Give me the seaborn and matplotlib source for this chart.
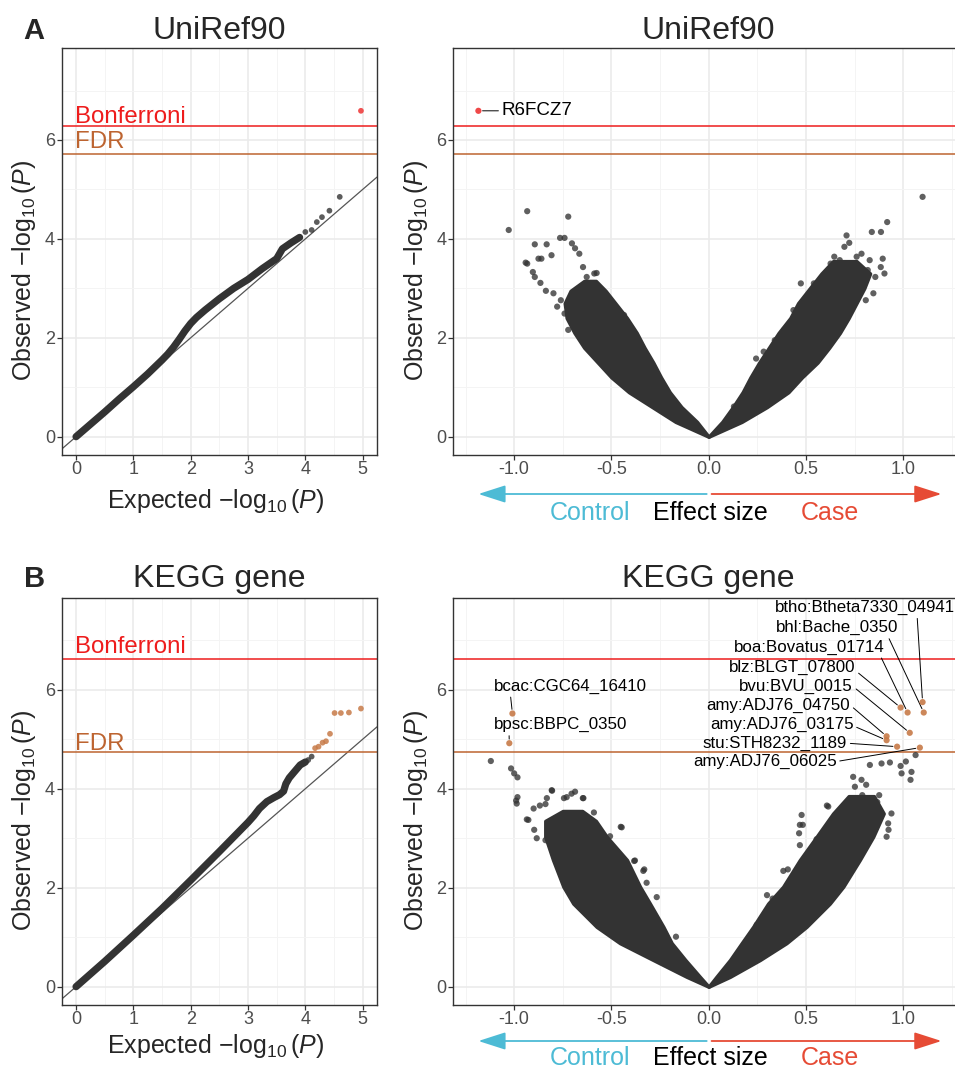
import matplotlib
matplotlib.use('Agg')
from matplotlib import pyplot as plt
import seaborn as sns

sns.set_theme(style='white')
plt.rcParams['font.family'] = ['Liberation Sans', 'DejaVu Sans']
plt.rcParams['mathtext.fontset'] = 'custom'
plt.rcParams['mathtext.rm'] = 'Liberation Sans'
plt.rcParams['mathtext.it'] = 'Liberation Sans:italic'
plt.rcParams['mathtext.bf'] = 'Liberation Sans:bold'

# ---------------- data ----------------
panel_titles = ['UniRef90', 'KEGG gene']
panel_letters = ['A', 'B']
bonferroni = [6.28, 6.63]
fdr = [5.72, 4.74]

# QQ curves (expected, observed)
qq_a_exp = [0, 0.25, 0.5, 0.75, 1.0, 1.25, 1.5, 1.6, 1.7, 1.8, 1.9, 2.0, 2.1, 2.25, 2.5,
            2.75, 3.0, 3.25, 3.5, 3.6, 3.75, 3.9]
qq_a_obs = [0, 0.25, 0.5, 0.76, 1.01, 1.27, 1.55, 1.67, 1.81, 1.97, 2.14, 2.29, 2.41, 2.56, 2.79,
            3.0, 3.18, 3.40, 3.60, 3.80, 3.92, 4.03]
qq_a_pts_exp = [4.0, 4.11, 4.2, 4.29, 4.42, 4.6]
qq_a_pts_obs = [4.14, 4.18, 4.34, 4.44, 4.57, 4.85]
qq_a_sig_exp = [4.97]
qq_a_sig_obs = [6.59]

qq_b_exp = [0, 0.5, 1.0, 1.5, 2.0, 2.5, 3.0, 3.1, 3.2, 3.33, 3.45, 3.55, 3.62, 3.66, 3.72, 3.8,
            3.91, 4.0]
qq_b_obs = [0, 0.51, 1.04, 1.58, 2.15, 2.73, 3.32, 3.45, 3.60, 3.74, 3.82, 3.88, 3.95, 4.10, 4.22,
            4.33, 4.48, 4.54]
qq_b_pts_exp = [4.05, 4.11]
qq_b_pts_obs = [4.58, 4.65]
qq_b_sig_exp = [4.17, 4.23, 4.30, 4.36, 4.43, 4.51, 4.62, 4.76, 4.97]
qq_b_sig_obs = [4.82, 4.85, 4.93, 4.96, 5.11, 5.53, 5.53, 5.54, 5.62]

# volcano dense cloud outlines (observed level, inner / outer effect size)
top_r_o = [0.0, 0.3, 0.6, 0.9, 1.2, 1.5, 1.8, 2.1, 2.4, 2.7, 3.0, 3.3, 3.55]
top_r_in = [0.0, 0.07, 0.125, 0.175, 0.215, 0.26, 0.31, 0.36, 0.42, 0.46, 0.52, 0.58, 0.64]
top_r_out = [0.0, 0.17, 0.30, 0.41, 0.48, 0.56, 0.62, 0.675, 0.72, 0.76, 0.80, 0.83, 0.76]
top_l_o = [0.0, 0.3, 0.6, 0.9, 1.2, 1.5, 1.8, 2.1, 2.4, 2.7, 2.95, 3.15]
top_l_in = [0.0, -0.06, -0.14, -0.2, -0.245, -0.285, -0.33, -0.37, -0.42, -0.48, -0.53, -0.58]
top_l_out = [0.0, -0.17, -0.29, -0.41, -0.5, -0.57, -0.64, -0.69, -0.73, -0.74, -0.71, -0.64]

bot_r_o = [0.0, 0.20, 0.54, 0.88, 1.21, 1.68, 2.02, 2.56, 3.03, 3.50, 3.85]
bot_r_in = [0.0, 0.04, 0.11, 0.17, 0.229, 0.306, 0.383, 0.469, 0.555, 0.64, 0.72]
bot_r_out = [0.0, 0.11, 0.264, 0.40, 0.503, 0.623, 0.692, 0.777, 0.846, 0.90, 0.85]
bot_l_o = [0.0, 0.20, 0.54, 0.88, 1.21, 1.68, 2.02, 2.56, 3.03, 3.35, 3.55]
bot_l_in = [0.0, -0.045, -0.12, -0.19, -0.233, -0.302, -0.353, -0.42, -0.524, -0.58, -0.65]
bot_l_out = [0.0, -0.113, -0.285, -0.456, -0.576, -0.696, -0.747, -0.80, -0.84, -0.84, -0.75]

# volcano scattered points
top_pts_v = [-1.028, -0.933, -0.722, -0.894, -0.833, -0.764, -0.741, -0.703, -0.687,
             -0.941, -0.933, -0.875, -0.86, -0.808, -0.665, -0.904, -0.894, -0.865,
             -0.837, -0.798, -0.76, -0.779, -0.741, -0.703, -0.665, -0.722, -0.646,
             -0.627, -0.588, -0.576, -0.483, -0.435, -0.636, -0.607, -0.55, -0.512, -0.473,
             1.10, 0.918, 0.839, 0.886, 0.709, 0.723, 0.698, 0.761, 0.786, 0.895,
             0.885, 0.904, 0.828, 0.818, 0.857, 0.474, 0.436, 0.388, 0.34, 0.283,
             0.244, 0.177, 0.13, 0.627, 0.646, 0.674, 0.541, 0.56, 0.732, 0.77,
             0.808, 0.847]
top_pts_o = [4.18, 4.56, 4.45, 3.89, 3.89, 4.02, 4.02, 3.91, 3.81,
             3.52, 3.50, 3.60, 3.60, 3.67, 3.70, 3.33, 3.23, 3.11,
             2.95, 2.90, 2.76, 2.63, 2.49, 2.36, 2.42, 2.16, 3.43,
             3.23, 3.30, 3.31, 2.59, 2.46, 3.03, 2.96, 2.76, 2.69, 2.56,
             4.85, 4.34, 4.14, 4.14, 4.07, 3.92, 3.84, 3.64, 3.70, 3.60,
             3.43, 3.30, 3.57, 3.37, 3.23, 3.10, 2.56, 2.16, 1.95, 1.72,
             1.58, 0.74, 0.61, 3.50, 3.64, 3.57, 3.10, 3.03, 3.23, 2.96,
             2.76, 2.90]

bot_pts_v = [-1.12, -1.016, -0.983, -1.0, -0.983, -0.987, -0.99, -0.807, -0.687,
             -0.644, -0.73, -0.832, -0.935, -0.90, -0.868, -0.839, -0.805, -0.744,
             -0.705, -0.647, -0.897, -0.839, -0.452, -0.383, -0.331, -0.59, -0.61,
             -0.447, -0.507, -0.379, -0.336, -0.319, -0.267, -0.168, -0.884, -0.927,
             1.064, 1.043, 1.038, 1.014, 0.987, 0.932, 0.889, 0.829, 0.992, 0.743,
             0.786, 0.877, 0.615, 0.484, 0.465, 0.384, 0.407, 0.30, 0.329, 0.608,
             0.752, 0.81, 0.915, 0.925, 0.867, 0.829, 0.79, 0.478, 0.469, 0.469,
             0.315, 0.247, 0.17, 0.923, 0.94, 0.555]
bot_pts_o = [4.56, 4.41, 4.23, 4.31, 3.83, 3.70, 3.76, 3.97, 3.94,
             3.81, 3.83, 3.81, 3.38, 3.60, 3.66, 3.69, 3.96, 3.81,
             3.90, 3.81, 3.17, 2.96, 3.23, 2.54, 2.37, 3.52, 3.38,
             3.22, 3.04, 2.55, 2.34, 2.10, 1.81, 1.01, 3.0, 3.37,
             4.68, 4.34, 4.18, 4.55, 4.46, 4.53, 4.51, 4.48, 4.31, 4.24,
             4.18, 3.87, 3.64, 3.27, 3.10, 2.34, 2.37, 1.85, 1.78, 3.66,
             4.04, 4.08, 3.03, 3.17, 3.73, 3.80, 3.87, 3.47, 3.27, 2.86,
             1.62, 1.25, 0.78, 3.30, 3.50, 2.98]

# labelled hits
top_hit_names = ['R6FCZ7']
top_hit_v = [-1.184]
top_hit_o = [6.59]
top_lab_v = [-0.882]
top_lab_o = [6.59]

bot_hit_names = ['btho:Btheta7330_04941', 'bhl:Bache_0350', 'boa:Bovatus_01714',
                 'blz:BLGT_07800', 'bvu:BVU_0015', 'amy:ADJ76_04750', 'amy:ADJ76_03175',
                 'stu:STH8232_1189', 'amy:ADJ76_06025', 'bcac:CGC64_16410', 'bpsc:BBPC_0350']
bot_hit_v = [1.10, 1.106, 1.023, 0.987, 1.034, 0.915, 0.915, 0.969, 1.086, -1.009, -1.025]
bot_hit_o = [5.75, 5.54, 5.54, 5.64, 5.13, 5.06, 4.98, 4.85, 4.83, 5.52, 4.92]
bot_lab_v = [0.803, 0.662, 0.516, 0.429, 0.449, 0.358, 0.375, 0.341, 0.288, -0.713, -0.759]
bot_lab_o = [7.66, 7.25, 6.86, 6.45, 6.07, 5.69, 5.30, 4.92, 4.55, 6.07, 5.29]
bot_lab_rel = [(0.79, 0), (0.91, 0), (0.97, 0), (1, 0.3), (1, 0.5), (1, 0.5), (1, 0.4),
               (1, 0.5), (1, 0.5), (0.11, 0), (0.11, 0)]

qq_xticks = [0, 1, 2, 3, 4, 5]
qq_yticks = [0, 2, 4, 6]
vol_xticks = [-1.0, -0.5, 0.0, 0.5, 1.0]
vol_xticklabels = ['-1.0', '-0.5', '0.0', '0.5', '1.0']

# ---------------- styling ----------------
DARK = '#333333'
BONF_COL = '#EE1C1C'
FDR_COL = '#BD6430'
FDR_PT = '#C77A48'
SIG_PT = '#EE3434'
CTRL_COL = '#4DBBD5'
CASE_COL = '#E64B35'
YLIM = (-0.37, 7.86)

W, H = 955, 1070
fig = plt.figure(figsize=(W / 100, H / 100), dpi=100)


def box(x0, y0, x1, y1):
    return [x0 / W, 1 - y1 / H, (x1 - x0) / W, (y1 - y0) / H]


def style(ax, xmaj, xmin, ymaj, ymin):
    ax.set_xticks(xmaj)
    ax.set_xticks(xmin, minor=True)
    ax.set_yticks(ymaj)
    ax.set_yticks(ymin, minor=True)
    ax.set_axisbelow(True)
    ax.grid(which='major', color='#EBEBEB', lw=1.2)
    ax.grid(which='minor', color='#F4F4F4', lw=0.7)
    for sp in ax.spines.values():
        sp.set_color(DARK)
        sp.set_linewidth(1.0)
    ax.tick_params(which='major', direction='out', length=3.6, width=0.9, color=DARK,
                   labelsize=13, labelcolor='#4D4D4D', left=True, bottom=True)
    ax.tick_params(axis='x', pad=0.5)
    ax.tick_params(axis='y', pad=1.5)
    ax.tick_params(which='minor', length=0)
    ax.set_xlabel('')
    ax.set_ylabel('')


rows = [(48, 455), (597.7, 1005)]
ylab = r'Observed $-\log_{10}(\mathit{P})$'
xlab = r'Expected $-\log_{10}(\mathit{P})$'

for r in range(2):
    y0, y1 = rows[r]
    ax_q = fig.add_axes(box(62, y0, 377, y1))
    ax_v = fig.add_axes(box(453.3, y0, 964, y1))

    # ---- QQ panel ----
    if r == 0:
        qe, qo, pe, po, se, so = qq_a_exp, qq_a_obs, qq_a_pts_exp, qq_a_pts_obs, qq_a_sig_exp, qq_a_sig_obs
        sig_col = SIG_PT
    else:
        qe, qo, pe, po, se, so = qq_b_exp, qq_b_obs, qq_b_pts_exp, qq_b_pts_obs, qq_b_sig_exp, qq_b_sig_obs
        sig_col = FDR_PT
    ax_q.axline((0, 0), slope=1, color='#555555', lw=0.9, zorder=2)
    sns.lineplot(x=qe, y=qo, sort=False, estimator=None, ax=ax_q, color=DARK,
                 lw=5.2, solid_capstyle='round', solid_joinstyle='round', zorder=3)
    sns.scatterplot(x=pe, y=po, ax=ax_q, color=DARK, s=17, alpha=0.8,
                    edgecolor='none', linewidth=0, zorder=4)
    sns.scatterplot(x=se, y=so, ax=ax_q, color=sig_col, s=17, alpha=0.85,
                    edgecolor='none', linewidth=0, zorder=4)
    ax_q.axhline(bonferroni[r], color=BONF_COL, lw=1.1, zorder=2.5)
    ax_q.axhline(fdr[r], color=FDR_COL, lw=1.1, zorder=2.5)
    bonf_off = [0.06, 0.11][r]
    fdr_off = [0.11, 0.04][r]
    ax_q.text(-0.02, bonferroni[r] + bonf_off, 'Bonferroni', color=BONF_COL, fontsize=17.3,
              ha='left', va='baseline')
    ax_q.text(-0.02, fdr[r] + fdr_off, 'FDR', color=FDR_COL, fontsize=17.3,
              ha='left', va='baseline')
    ax_q.set_xlim(-0.245, 5.25)
    ax_q.set_ylim(*YLIM)
    style(ax_q, qq_xticks, [0.5, 1.5, 2.5, 3.5, 4.5], qq_yticks, [1, 3, 5, 7])

    # ---- volcano panel ----
    if r == 0:
        wings = [(top_r_o, top_r_in, top_r_out), (top_l_o, top_l_in, top_l_out)]
        pv, po2 = top_pts_v, top_pts_o
    else:
        wings = [(bot_r_o, bot_r_in, bot_r_out), (bot_l_o, bot_l_in, bot_l_out)]
        pv, po2 = bot_pts_v, bot_pts_o
    for wo, wi, wout in wings:
        ax_v.fill_betweenx(wo, wi, wout, color=DARK, lw=2.5, edgecolor=DARK,
                           joinstyle='round', zorder=3)
    sns.scatterplot(x=pv, y=po2, ax=ax_v, color=DARK, s=20, alpha=0.78,
                    edgecolor='none', linewidth=0, zorder=3)
    ax_v.axhline(bonferroni[r], color=BONF_COL, lw=1.1, zorder=2.5)
    ax_v.axhline(fdr[r], color=FDR_COL, lw=1.1, zorder=2.5)

    if r == 0:
        sns.scatterplot(x=top_hit_v, y=top_hit_o, ax=ax_v, color=SIG_PT, s=20, alpha=0.9,
                        edgecolor='none', linewidth=0, zorder=5)
        for name, hv, ho, lv, lo in zip(top_hit_names, top_hit_v, top_hit_o, top_lab_v, top_lab_o):
            ax_v.annotate(name, xy=(hv, ho), xytext=(lv, lo), fontsize=13.5, color='black',
                          ha='center', va='center', annotation_clip=False,
                          arrowprops=dict(arrowstyle='-', color='black', lw=0.7,
                                          relpos=(0, 0.5), shrinkA=0, shrinkB=3))
    else:
        sns.scatterplot(x=bot_hit_v, y=bot_hit_o, ax=ax_v, color=FDR_PT, s=20, alpha=0.9,
                        edgecolor='none', linewidth=0, zorder=5)
        for name, hv, ho, lv, lo, rel in zip(bot_hit_names, bot_hit_v, bot_hit_o,
                                             bot_lab_v, bot_lab_o, bot_lab_rel):
            ax_v.annotate(name, xy=(hv, ho), xytext=(lv, lo), fontsize=12.2, color='black',
                          ha='center', va='center', annotation_clip=False,
                          arrowprops=dict(arrowstyle='-', color='black', lw=0.7,
                                          relpos=rel, shrinkA=0, shrinkB=3))

    ax_v.set_xlim(-1.313, 1.313)
    ax_v.set_ylim(*YLIM)
    style(ax_v, vol_xticks, [-1.25, -0.75, -0.25, 0.25, 0.75, 1.25], qq_yticks, [1, 3, 5, 7])
    ax_v.set_xticklabels(vol_xticklabels)

    # direction arrows under the volcano x axis
    trans = ax_v.get_xaxis_transform()
    ah = y1 - y0
    arrow_y = -(39 if r == 0 else 36) / ah
    text_y = -(58 if r == 0 else 53) / ah
    ax_v.annotate('', xy=(-1.184, arrow_y), xytext=(-0.01, arrow_y), xycoords=trans,
                  textcoords=trans, annotation_clip=False,
                  arrowprops=dict(arrowstyle='-|>,head_length=1.4,head_width=0.45',
                                  color=CTRL_COL, lw=1.3, shrinkA=0, shrinkB=0))
    ax_v.annotate('', xy=(1.197, arrow_y), xytext=(0.015, arrow_y), xycoords=trans,
                  textcoords=trans, annotation_clip=False,
                  arrowprops=dict(arrowstyle='-|>,head_length=1.4,head_width=0.45',
                                  color=CASE_COL, lw=1.3, shrinkA=0, shrinkB=0))
    ax_v.text(-0.61, text_y, 'Control', color=CTRL_COL, fontsize=18, transform=trans,
              ha='center', va='center')
    ax_v.text(0.01, text_y, 'Effect size', color='black', fontsize=18, transform=trans,
              ha='center', va='center')
    ax_v.text(0.623, text_y, 'Case', color=CASE_COL, fontsize=18, transform=trans,
              ha='center', va='center')

    # titles, letters, axis labels
    base = [39.3, 586.7][r]
    fig.text(219.5 / W, 1 - base / H, panel_titles[r], fontsize=23, ha='center', va='baseline')
    fig.text(708.7 / W, 1 - base / H, panel_titles[r], fontsize=23, ha='center', va='baseline')
    fig.text(23.5 / W, 1 - base / H, panel_letters[r], fontsize=21, fontweight='bold',
             ha='left', va='baseline')
    xl_base = [508.3, 1053.3][r]
    fig.text(215 / W, 1 - xl_base / H, xlab, fontsize=18, ha='center', va='baseline')
    yc = (y0 + y1) / 2 + 19
    fig.text(24 / W, 1 - yc / H, ylab, fontsize=18, rotation=90, ha='center', va='center')
    fig.text(416 / W, 1 - yc / H, ylab, fontsize=18, rotation=90, ha='center', va='center')

fig.savefig('out.png', dpi=100)
